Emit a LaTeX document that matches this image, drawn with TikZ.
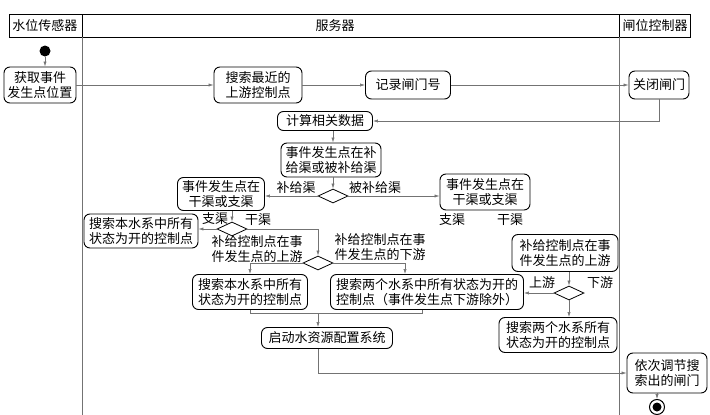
\documentclass[tikz,border=0pt]{standalone}
\usepackage{fontspec}
\usetikzlibrary{shapes.geometric, arrows.meta}
\newfontfamily\cjk{Noto Sans CJK SC}
\newcommand*{\scalePic}{1}
\newcommand*{\lineGray}{black!55}
\newcommand*{\cjkSize}{\cjk\fontsize{13}{15.5}\selectfont}
\tikzset{
  act/.style={draw, rounded corners=6pt, line width=0.9pt, align=center, inner sep=2pt, font=\cjkSize},
  decision/.style={draw, diamond, line width=0.8pt, inner sep=0pt, minimum width=30pt, minimum height=14pt},
  flow/.style={draw=\lineGray, line width=0.6pt, -{Latex[length=5pt,width=3.2pt]}},
  link/.style={draw=\lineGray, line width=0.6pt},
  guard/.style={font=\cjkSize, align=center, inner sep=0pt},
  lane/.style={draw=\lineGray, line width=0.6pt}
}

\begin{document}
\begin{tikzpicture}[x=\scalePic pt, y=-\scalePic pt] {
\useasboundingbox (0,0) rectangle (710,415);
% swim lanes
\draw [line width=1pt] (9,14) rectangle (690,37);
\draw [line width=0.9pt] (82,14) -- (82,37) (619,14) -- (619,37);
\draw [lane] (82,37) -- (82,415);
\draw [lane] (619,37) -- (619,415);
\node [guard] (laneSensor) at (45,26) {水位传感器};
\node [guard] (laneServer) at (335,26) {服务器};
\node [guard] (laneGate) at (655,26) {闸位控制器};

% activities
\node (start) at (45,51) [circle, fill, minimum size=11pt, inner sep=0pt] {};
\node [act, minimum width=72pt, minimum height=36pt] (getPos) at (40,85) {获取事件\\发生点位置};
\node [act, minimum width=88pt, minimum height=36pt] (searchUp) at (258,85) {搜索最近的\\上游控制点};
\node [act, minimum width=85pt, minimum height=28pt] (record) at (408,85) {记录闸门号};
\node [act, minimum width=60pt, minimum height=28pt] (closeGate) at (659,85) {关闭闸门};
\node [act, minimum width=95pt, minimum height=19pt] (calc) at (325,121) {计算相关数据};
\node [act, minimum width=100pt, minimum height=34pt] (supplyQ) at (331,160) {事件发生点在补\\给渠或被补给渠};
\node [decision] (dec1) at (333,196) {};
\node [act, minimum width=87pt, minimum height=33pt] (canalL) at (221,194) {事件发生点在\\干渠或支渠};
\node [act, minimum width=90pt, minimum height=36pt] (canalR) at (485,192) {事件发生点在\\干渠或支渠};
\node [decision] (dec2) at (232,229) {};
\node [act, minimum width=114pt, minimum height=34pt] (searchOwnA) at (141,231) {搜索本水系中所有\\状态为开的控制点};
\node [decision] (dec3) at (318,263) {};
\node [act, minimum width=115pt, minimum height=35pt] (searchOwnB) at (250,292) {搜索本水系中所有\\状态为开的控制点};
\node [act, minimum width=193pt, minimum height=35pt] (searchBothA) at (427,292) {搜索两个水系中所有状态为开的\\控制点（事件发生点下游除外）};
\node [act, minimum width=131pt, minimum height=21pt] (startAlloc) at (327,338) {启动水资源配置系统};
\node [act, minimum width=106pt, minimum height=37pt] (upstream) at (565,253) {补给控制点在事\\件发生点的上游};
\node [decision] (dec4) at (569,293) {};
\node [act, minimum width=118pt, minimum height=35pt] (searchBothB) at (558,335) {搜索两个水系所有\\状态为开的控制点};
\node [act, minimum width=80pt, minimum height=40pt] (adjust) at (667,373) {依次调节搜\\索出的闸门};
\node (end) at (657,407) [circle, draw, line width=1pt, minimum size=15pt, inner sep=0pt] {};
\fill (end) circle (4.5pt);

% guards
\node [guard] (gSupply) at (296,188) {补给渠};
\node [guard] (gSupplied) at (375,188) {被补给渠};
\node [guard] (gBranchL) at (215,219) {支渠};
\node [guard] (gTrunkL) at (258,220) {干渠};
\node [guard] (gBranchR) at (452,220) {支渠};
\node [guard] (gTrunkR) at (510,220) {干渠};
\node [guard] (gUpA) at (257,249) {补给控制点在事\\件发生点的上游};
\node [guard] (gDownA) at (380,247) {补给控制点在事\\件发生点的下游};
\node [guard] (gUpB) at (542,283) {上游};
\node [guard] (gDownB) at (600,283) {下游};

% connectors
\coordinate (merge) at (318,313);
\draw [flow] (start) -- (start |- getPos.north);
\draw [flow] (getPos) -- (searchUp);
\draw [flow] (searchUp) -- (record);
\draw [flow] (record) -- (closeGate);
\draw [flow] (closeGate.south) |- (calc.east);
\draw [flow] (dec1 |- calc.south) -- (dec1 |- supplyQ.north);
\draw [flow] (dec1 |- supplyQ.south) -- (dec1.north);
\draw [flow] (dec1.west) -- (dec1.west -| canalL.east);
\draw [flow] (dec1.east) -- (dec1.east -| canalR.west);
\draw [flow] (dec2 |- canalL.south) -- (dec2.north);
\draw [flow] (dec2.west) -- (dec2.west -| searchOwnA.east);
\draw [flow] (dec2.east) -| (dec3.north);
\draw [flow] (dec3.west) -| (searchOwnB.north);
\draw [flow] (dec3.east) -| ([xshift=-22pt]searchBothA.north);
\draw [link] (searchOwnB.south) |- (merge);
\draw [link] ([xshift=-5pt]searchBothA.south) |- (merge);
\draw [flow] (merge) -- (merge |- startAlloc.north);
\draw [flow] (merge |- startAlloc.south) |- (adjust.west);
\draw [flow] (dec4 |- upstream.south) -- (dec4.north);
\draw [flow] (dec4.west) -- (dec4.west -| searchBothA.east);
\draw [flow] (dec4.south) -- (dec4 |- searchBothB.north);
\draw [flow] (end |- adjust.south) -- (end.north);
}\end{tikzpicture}
\end{document}
